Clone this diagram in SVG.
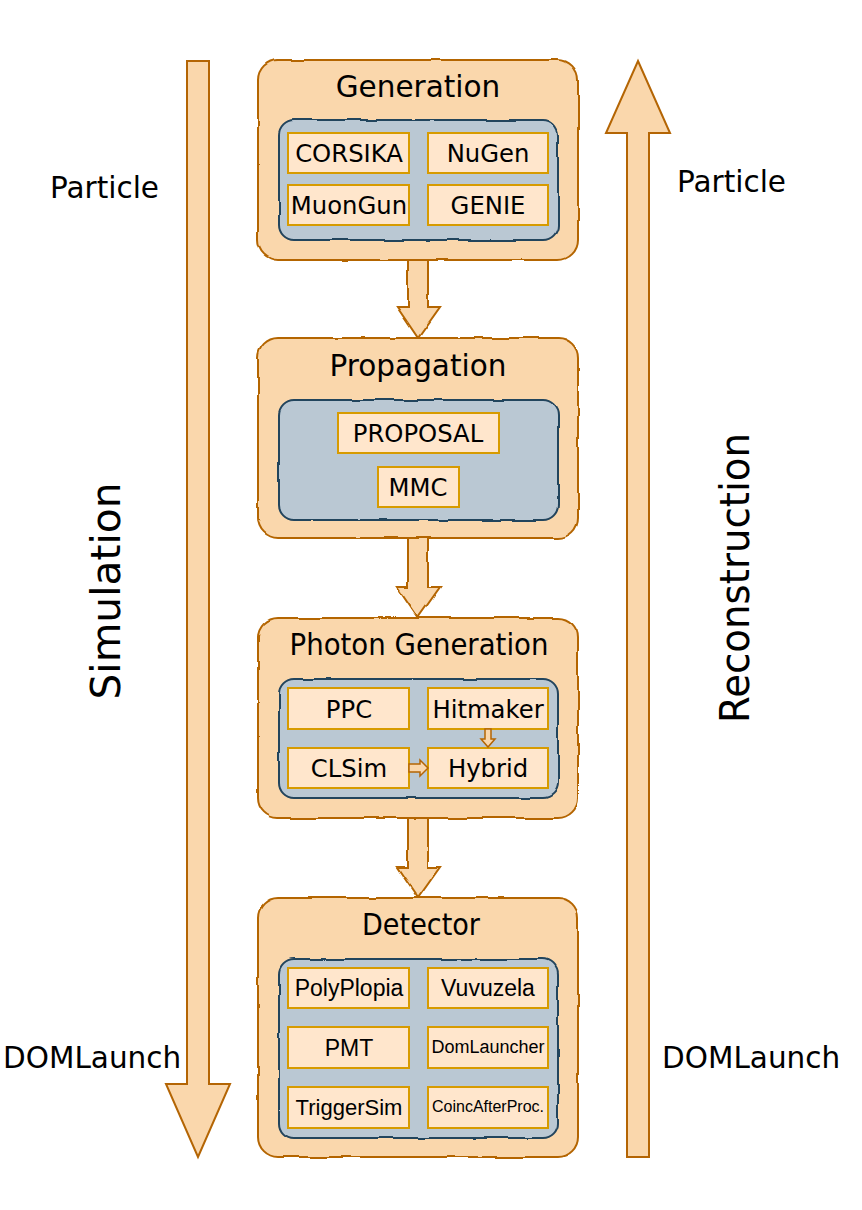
<svg xmlns="http://www.w3.org/2000/svg" width="862" height="1210" viewBox="0 0 862 1210">
<defs>
<filter id="sk" x="-5%" y="-5%" width="110%" height="110%">
<feTurbulence type="fractalNoise" baseFrequency="0.035" numOctaves="2" seed="3" result="n"/>
<feDisplacementMap in="SourceGraphic" in2="n" scale="3.5" xChannelSelector="R" yChannelSelector="G"/>
</filter>
</defs>
<style>
.bg{fill:#ffffff}
.outer{fill:#fad7ac;stroke:#b46504;stroke-width:2}
.inner{fill:#bac8d3;stroke:#23445d;stroke-width:2}
.item{fill:#ffe6cc;stroke:#d79b00;stroke-width:2}
.arr{fill:#fad7ac;stroke:#b46504;stroke-width:2;stroke-linejoin:miter}
.sarr{fill:#fad7ac;stroke:#b46504;stroke-width:1.5}
text{font-family:"DejaVu Sans","Verdana",sans-serif;fill:#000}
.title{font-size:29.5px;text-anchor:middle}
.lbl{font-size:29.5px}
.side{font-size:40px;text-anchor:middle}
.it{font-size:24.3px;text-anchor:middle}
.ar{font-family:"Liberation Sans",Arial,sans-serif}
</style>
<rect class="bg" x="0" y="0" width="862" height="1210"/>

<g id="side-arrows">
<polygon class="arr" points="187,61 209,61 209,1084 230,1084 198,1157 166,1084 187,1084"/>
<polygon class="arr" points="638,61 670,133 649,133 649,1157 627,1157 627,133 606,133"/>
</g>

<g id="side-labels">
<text class="lbl" x="50" y="198">Particle</text>
<text class="lbl" x="677" y="192">Particle</text>
<text class="lbl" x="3" y="1068">DOMLaunch</text>
<text class="lbl" x="662" y="1068">DOMLaunch</text>
<text class="side" transform="translate(120,591) rotate(-90)" textLength="217" lengthAdjust="spacingAndGlyphs">Simulation</text>
<text class="side" transform="translate(749,578) rotate(-90)" textLength="290" lengthAdjust="spacingAndGlyphs">Reconstruction</text>
</g>

<g id="connectors">
<polygon class="arr" filter="url(#sk)" points="408,259 428,259 428,307 440,307 418,338 397,307 408,307"/>
<polygon class="arr" filter="url(#sk)" points="408,537 428,537 428,587 440,587 418,618 397,587 408,587"/>
<polygon class="arr" filter="url(#sk)" points="408,817 428,817 428,867 440,867 418,898 397,867 408,867"/>
</g>

<g id="generation">
<rect class="outer" filter="url(#sk)" x="258" y="60" width="320" height="200" rx="20"/>
<text class="title" x="418" y="97">Generation</text>
<rect class="inner" filter="url(#sk)" x="279" y="120" width="279" height="120" rx="15"/>
<g id="corsika"><rect class="item" x="288" y="133" width="121" height="40"/><text class="it" x="349" y="162">CORSIKA</text></g>
<g id="nugen"><rect class="item" x="428" y="133" width="120" height="40"/><text class="it" x="488" y="162">NuGen</text></g>
<g id="muongun"><rect class="item" x="288" y="185" width="121" height="40"/><text class="it" x="349" y="214">MuonGun</text></g>
<g id="genie"><rect class="item" x="428" y="185" width="120" height="40"/><text class="it" x="488" y="214">GENIE</text></g>
</g>

<g id="propagation">
<rect class="outer" filter="url(#sk)" x="258" y="338" width="320" height="200" rx="20"/>
<text class="title" x="418" y="376">Propagation</text>
<rect class="inner" filter="url(#sk)" x="279" y="400" width="279" height="120" rx="15"/>
<g id="proposal"><rect class="item" x="338" y="413" width="161" height="40"/><text class="it" x="418" y="442">PROPOSAL</text></g>
<g id="mmc"><rect class="item" x="378" y="467" width="81" height="40"/><text class="it" x="418" y="496">MMC</text></g>
</g>

<g id="photon-generation">
<rect class="outer" filter="url(#sk)" x="258" y="618" width="320" height="200" rx="20"/>
<text class="title" x="419" y="655" textLength="259" lengthAdjust="spacingAndGlyphs">Photon Generation</text>
<rect class="inner" filter="url(#sk)" x="279" y="679" width="279" height="119" rx="15"/>
<g id="ppc"><rect class="item" x="288" y="688" width="121" height="41"/><text class="it" x="349" y="718">PPC</text></g>
<g id="hitmaker"><rect class="item" x="428" y="688" width="120" height="41"/><text class="it" x="488" y="718">Hitmaker</text></g>
<g id="clsim"><rect class="item" x="288" y="748" width="121" height="40"/><text class="it" x="349" y="777">CLSim</text></g>
<g id="hybrid"><rect class="item" x="428" y="748" width="120" height="40"/><text class="it" x="488" y="777">Hybrid</text></g>
<g id="inner-connectors">
<polygon class="sarr" points="485,729 491,729 491,739 495,739 488,747 481,739 485,739"/>
<polygon class="sarr" points="409,764 420,764 420,760 428,768 420,776 420,772 409,772"/>
</g>
</g>

<g id="detector">
<rect class="outer" filter="url(#sk)" x="258" y="898" width="320" height="259" rx="20"/>
<text class="title" x="421" y="935" textLength="118" lengthAdjust="spacingAndGlyphs">Detector</text>
<rect class="inner" filter="url(#sk)" x="279" y="959" width="279" height="179" rx="15"/>
<g id="polyplopia"><rect class="item" x="288" y="968" width="121" height="40"/><text class="it ar" x="349" y="996" style="font-size:23px">PolyPlopia</text></g>
<g id="vuvuzela"><rect class="item" x="428" y="968" width="120" height="40"/><text class="it ar" x="488" y="996" style="font-size:23px">Vuvuzela</text></g>
<g id="pmt"><rect class="item" x="288" y="1027" width="121" height="41"/><text class="it ar" x="349" y="1056" style="font-size:23px">PMT</text></g>
<g id="domlauncher"><rect class="item" x="428" y="1027" width="120" height="41"/><text class="it ar" x="488" y="1053" style="font-size:18px">DomLauncher</text></g>
<g id="triggersim"><rect class="item" x="288" y="1087" width="121" height="41"/><text class="it ar" x="349" y="1115" style="font-size:22px">TriggerSim</text></g>
<g id="coincafterproc"><rect class="item" x="428" y="1087" width="120" height="41"/><text class="it ar" x="488" y="1112" style="font-size:16px">CoincAfterProc.</text></g>
</g>
</svg>
